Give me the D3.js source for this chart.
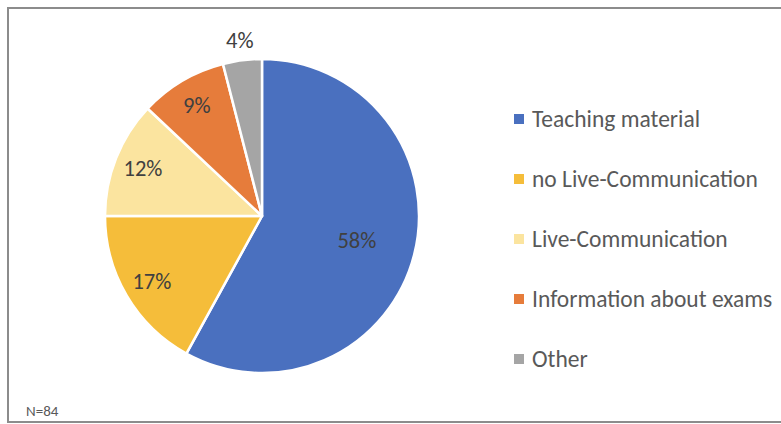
<!DOCTYPE html>
<html>
<head>
<meta charset="utf-8">
<script src="https://cdn.jsdelivr.net/npm/d3@7"></script>
<style>
  body { margin: 0; background: #fff; }
  svg text { font-family: Carlito, "Open Sans", "Noto Sans", sans-serif; }
</style>
</head>
<body>
<div id="chart"></div>
<script>
// data
var categories = ["Teaching material", "no Live-Communication", "Live-Communication", "Information about exams", "Other"];
var shares = [58, 17, 12, 9, 4];
var sampleNote = "N=84";

// chart colors
var colors = ["#4a70bf", "#f5bd3a", "#fbe49f", "#e67c3b", "#a5a5a5"];

var width = 781, height = 424;
var cx = 262, cy = 216, radius = 157;

var svg = d3.select('#chart').append('svg')
  .attr('width', width)
  .attr('height', height);

// frame
svg.append('rect')
  .attr('x', 8).attr('y', 8)
  .attr('width', 790).attr('height', 414)
  .attr('fill', 'none')
  .attr('stroke', '#8c8c8c')
  .attr('stroke-width', 2);

var color = d3.scaleOrdinal().domain(categories).range(colors);

var dataset = categories.map(function(c, i) { return { label: c, count: shares[i] }; });

var pie = d3.pie().value(function(d) { return d.count; }).sort(null);
var arc = d3.arc().innerRadius(0).outerRadius(radius);

var g = svg.append('g').attr('transform', 'translate(' + cx + ',' + cy + ')');

var arcs = pie(dataset);

g.selectAll('path')
  .data(arcs)
  .enter().append('path')
  .attr('d', arc)
  .attr('fill', function(d) { return color(d.data.label); })
  .attr('stroke', '#fff')
  .attr('stroke-width', 2.5)
  .attr('stroke-linejoin', 'round');

// label radius: big slice closer in, small slice pushed outside
function labelR(d) {
  if (d.data.count >= 50) return 98;
  if (d.data.count < 5) return 177;
  return 128;
}

g.selectAll('text.pct')
  .data(arcs)
  .enter().append('text')
  .attr('class', 'pct')
  .attr('x', function(d) { var a = (d.startAngle + d.endAngle) / 2; return Math.sin(a) * labelR(d); })
  .attr('y', function(d) { var a = (d.startAngle + d.endAngle) / 2; return -Math.cos(a) * labelR(d); })
  .attr('text-anchor', 'middle')
  .attr('dominant-baseline', 'central')
  .attr('font-size', 22.5)
  .attr('fill', '#404040')
  .text(function(d) { return d.data.count + '%'; });

// legend
var legend = svg.append('g').attr('transform', 'translate(514,0)');
var rowY = d3.scalePoint().domain(categories).range([119, 359]);

var item = legend.selectAll('g')
  .data(categories)
  .enter().append('g')
  .attr('transform', function(d) { return 'translate(0,' + rowY(d) + ')'; });

item.append('rect')
  .attr('x', 0).attr('y', -5)
  .attr('width', 10).attr('height', 10)
  .attr('fill', function(d) { return color(d); });

item.append('text')
  .attr('x', 18)
  .attr('y', 0)
  .attr('dominant-baseline', 'central')
  .attr('font-size', 23.5)
  .attr('fill', '#595959')
  .text(function(d) { return d; });

svg.append('text')
  .attr('x', 26).attr('y', 416)
  .attr('font-family', '"Liberation Sans", Arial, sans-serif')
  .attr('font-size', 15)
  .attr('fill', '#595959')
  .text(sampleNote);
</script>
</body>
</html>
